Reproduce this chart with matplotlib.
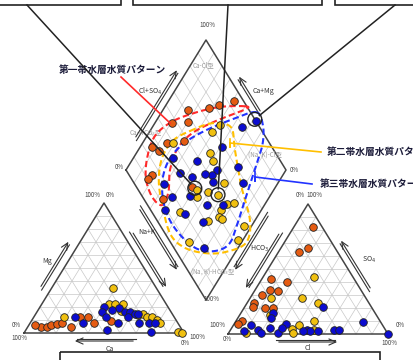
import matplotlib
matplotlib.use('Agg')
import matplotlib.pyplot as plt
from matplotlib.patches import Rectangle
import numpy as np

plt.rcParams['font.family'] = ['Noto Sans CJK JP', 'DejaVu Sans']

# ---- data (percent) ----
# cation triangle: Mg, Na+K   (Ca = rest)
cat1_mg = [5, 5, 6, 7, 8, 6, 5, 12, 12, 8, 9]
cat1_nak = [8, 12, 14, 17, 20, 4, 27, 29, 34, 40, 50]
cat2_mg = [12, 35, 22, 22, 17, 22, 14, 15, 12, 12, 10, 8, 1, 0]
cat2_nak = [19, 38, 42, 46, 52, 51, 64, 67, 71, 74, 78, 81, 96, 99]
cat3_mg = [12, 8, 20, 16, 12, 19, 16, 16, 15, 15, 12, 8, 8, 8, 8, 2, 1, 18]
cat3_nak = [26, 33, 40, 41, 45, 50, 55, 58, 62, 64, 59, 55, 68, 74, 78, 51, 79, 46]

# anion triangle: SO4, Cl   (HCO3 = rest)
an1_so4 = [82, 66, 63, 42, 40, 30, 34, 33, 24, 21, 20, 20, 10, 8]
an1_cl = [12, 17, 13, 6, 17, 6, 9, 15, 4, 5, 13, 18, 4, 2]
an2_so4 = [44, 28, 28, 24, 15, 7, 4, 1, 1, 10, 3]
an2_cl = [32, 13, 32, 44, 19, 41, 38, 40, 11, 49, 52]
an3_so4 = [21, 16, 12, 7, 3, 1, 2, 5, 1, 8, 5, 3, 2, 2, 3, 3, 9, 0, 2]
an3_cl = [49, 20, 21, 11, 17, 20, 9, 24, 31, 32, 31, 48, 50, 55, 65, 68, 80, 100, 46]

# diamond: Na+K, Cl+SO4
dia1_nak = [41, 33, 28, 16, 20, 11, 15, 25, 7, 13, 18, 17, 34, 48]
dia1_clso4 = [94, 83, 76, 62, 57, 47, 36, 47, 25, 28, 14, 10, 12, 35]
dia2_nak = [41, 39, 19, 46, 51, 66, 52, 55, 60, 67, 76, 80, 75, 76, 79, 50, 71, 95, 67, 97]
dia2_clso4 = [76, 68, 40, 59, 58, 56, 37, 34, 43, 48, 50, 55, 44, 40, 41, 18, 32, 52, 12, 43]
dia3_nak = [62, 56, 51, 25, 41, 69, 57, 35, 44, 56, 59, 78, 29, 50, 39, 64, 74, 40, 54, 68, 79, 51]
dia3_clso4 = [100, 89, 69, 34, 48, 71, 57, 33, 39, 52, 50, 68, 18, 30, 18, 37, 47, 9, 20, 28, 19, 48]

# circled samples (diamond)
hl_nak = [50, 67, 61]
hl_clso4 = [36, 48, 100]

# water quality pattern envelopes (diamond: Na+K, Cl+SO4)
env1_nak = [50, 34.5, 21, 10, 5, 8.5, 16, 27, 36, 35, 27.5, 24, 27, 37, 51]
env1_clso4 = [99, 83, 65, 47, 31, 18, 9, 6, 9, 18, 27.5, 40, 55, 74.5, 97.5]
env2_nak = [25, 36, 49, 60, 78, 97, 103, 94, 82, 67, 53, 38.5, 25, 18, 18]
env2_clso4 = [55, 72, 82, 76, 66, 58, 47, 31, 18, 7, 3, 8, 16, 27, 40.5]
env3_nak = [59, 68, 75, 79, 84, 90, 93, 88, 77, 64, 48, 35, 26, 23, 26, 34, 47]
env3_clso4 = [103.5, 103, 96, 85, 68.5, 50, 37, 26, 15.5, 10, 8, 11.5, 20, 32, 46.6, 64, 86]

pattern_labels = ['第一帯水層水質パターン', '第二帯水層水質パターン', '第三帯水層水質パターン']
colors = ['#e55b12', '#f0c010', '#0c0cd0']
env_colors = ['#ff2a2a', '#ffbf00', '#2233ff']


# ---- geometry (pixel space) ----
def cat_xy(mg, nak):
    mg = np.asarray(mg, float); nak = np.asarray(nak, float)
    return 24 + (nak + mg / 2) * 1.6, 333 - mg * 1.3


def an_xy(so4, cl):
    so4 = np.asarray(so4, float); cl = np.asarray(cl, float)
    return 228 + (cl + so4 / 2) * 1.6, 334 - so4 * 1.3


def dia_xy(nak, clso4):
    u = 1 - np.asarray(nak, float) / 100
    v = np.asarray(clso4, float) / 100
    return 206 - 80 * u + 80 * v, 300 - 130 * (u + v)


def smooth_closed(xs, ys, n=16):
    pts = np.column_stack([xs, ys])
    P = np.vstack([pts[-1], pts, pts[0], pts[1]])
    t = np.linspace(0, 1, n, endpoint=False)[:, None]
    out = []
    for i in range(1, len(pts) + 1):
        p0, p1, p2, p3 = P[i - 1], P[i], P[i + 1], P[i + 2]
        out.append(0.5 * (2 * p1 + (-p0 + p2) * t + (2 * p0 - 5 * p1 + 4 * p2 - p3) * t ** 2
                          + (-p0 + 3 * p1 - 3 * p2 + p3) * t ** 3))
    out = np.vstack(out + [out[0][:1]])
    return out[:, 0], out[:, 1]


fig = plt.figure(figsize=(4.14, 3.6), dpi=100)
ax = fig.add_axes([0, 0, 1, 1])
ax.set_xlim(0, 414)
ax.set_ylim(360, 0)
ax.axis('off')

gc = '#c8c8c8'
ec = '#444444'


def tri_frame(f):
    for p in range(10, 100, 10):
        for a, b in [((p, 0), (p, 100 - p)), ((0, p), (100 - p, p)), ((0, 100 - p), (100 - p, 0))]:
            x0, y0 = f(*a); x1, y1 = f(*b)
            ax.plot([x0, x1], [y0, y1], color=gc, lw=0.5, zorder=1)
    xs, ys = f([0, 0, 100, 0], [0, 100, 0, 0])
    ax.plot(xs, ys, color=ec, lw=1.1, zorder=2)


tri_frame(cat_xy)
tri_frame(an_xy)

for p in range(10, 100, 10):
    x, y = dia_xy([p, p], [0, 100]); ax.plot(x, y, color=gc, lw=0.5, zorder=1)
    x, y = dia_xy([0, 100], [p, p]); ax.plot(x, y, color=gc, lw=0.5, zorder=1)
x, y = dia_xy([0, 100, 100, 0, 0], [0, 0, 100, 100, 0])
ax.plot(x, y, color=ec, lw=1.1, zorder=2)


# arrows beside the edges
def edge_arrow(P, Q, t0, t1, off, center):
    P = np.array(P, float); Q = np.array(Q, float)
    a = P + (Q - P) * t0; b = P + (Q - P) * t1
    d = (b - a) / np.linalg.norm(b - a)
    n = np.array([-d[1], d[0]])
    if np.dot(n, (a + b) / 2 - np.array(center)) < 0:
        n = -n
    a = a + n * off; b = b + n * off
    ax.annotate('', xy=b, xytext=a,
                arrowprops=dict(arrowstyle='->,head_length=0.5,head_width=0.22', color='#333', lw=0.8))
    ax.plot([a[0] - n[0] * 2.5, b[0] - d[0] * 5 - n[0] * 2.5],
            [a[1] - n[1] * 2.5, b[1] - d[1] * 5 - n[1] * 2.5], color='#333', lw=0.8)


cc = (104, 290); ac = (308, 291); dc = (206, 170)
edge_arrow(cat_xy(0, 0), cat_xy(100, 0), 0.3, 0.68, 10, cc)          # Mg
edge_arrow(cat_xy(0, 100), cat_xy(0, 0), 0.3, 0.7, 8, cc)            # Ca
edge_arrow(cat_xy(100, 0), cat_xy(0, 100), 0.25, 0.7, 9, cc)         # Na+K
edge_arrow(dia_xy(0, 0), dia_xy(100, 0), 0.25, 0.75, 9, dc)          # Na+K (diamond)
edge_arrow(dia_xy(0, 0), dia_xy(0, 100), 0.2, 0.75, 9, dc)           # Cl+SO4
edge_arrow(dia_xy(100, 100), dia_xy(0, 100), 0.4, 0.7, 9, dc)        # Ca+Mg
edge_arrow(dia_xy(100, 100), dia_xy(100, 0), 0.3, 0.75, 9, dc)       # HCO3 (diamond)
edge_arrow(an_xy(100, 0), an_xy(0, 0), 0.25, 0.7, 9, ac)             # HCO3
edge_arrow(an_xy(0, 100), an_xy(100, 0), 0.3, 0.7, 9, ac)            # SO4
edge_arrow(an_xy(0, 0), an_xy(0, 100), 0.3, 0.7, 8, ac)              # Cl

fs = 5
for txt, x, y in [('Mg', 47, 261), ('Ca', 110, 349), ('Na+K', 147, 232),
                  ('Cl+SO$_4$', 150, 91), ('Ca+Mg', 264, 91), ('HCO$_3$', 260, 249),
                  ('SO$_4$', 369, 260), ('Cl', 308, 348)]:
    ax.text(x, y, txt, fontsize=fs, color='#333', ha='center', va='center')

for txt, x, y in [('100%', 207, 25), ('0%', 294, 170), ('0%', 119, 167), ('100%', 211, 299),
                  ('100%', 92, 195), ('0%', 110, 195), ('0%', 16, 325), ('100%', 19, 338),
                  ('100%', 197, 337), ('0%', 185, 343),
                  ('0%', 300, 195), ('100%', 314, 195), ('100%', 217, 325), ('0%', 227, 339),
                  ('0%', 400, 325), ('100%', 389, 343)]:
    ax.text(x, y, txt, fontsize=4.5, color='#444', ha='center', va='center')

for txt, x, y in [('Ca-Cl型', 204, 65), ('Ca-HCO$_3$型', 146, 133),
                  ('(Na, K)-Cl型', 265, 155), ('(Na, K)-HCO$_3$型', 213, 272)]:
    ax.text(x, y, txt, fontsize=4.5, color='#9a9a9a', ha='center', va='center', zorder=2)

# envelopes
for (en, ev), c in zip([(env1_nak, env1_clso4), (env2_nak, env2_clso4), (env3_nak, env3_clso4)], env_colors):
    x, y = dia_xy(en, ev)
    sx, sy = smooth_closed(x, y)
    ax.plot(sx, sy, color=c, lw=1.5, ls=(0, (3, 1.6)), zorder=3)

# points
groups = [
    (cat1_mg, cat1_nak, an1_so4, an1_cl, dia1_nak, dia1_clso4),
    (cat2_mg, cat2_nak, an2_so4, an2_cl, dia2_nak, dia2_clso4),
    (cat3_mg, cat3_nak, an3_so4, an3_cl, dia3_nak, dia3_clso4),
]
for (cm, cn, aso, acl, dn, dcs), c in zip(groups, colors):
    for xy in [cat_xy(cm, cn), an_xy(aso, acl), dia_xy(dn, dcs)]:
        ax.scatter(xy[0], xy[1], s=30, color=c, edgecolors='#222', linewidths=0.6, zorder=4)

hx, hy = dia_xy(hl_nak, hl_clso4)
ax.scatter(hx, hy, s=100, facecolors='none', edgecolors='#222', linewidths=1.0, zorder=5)

# boxes at top and bottom
for x0, x1 in [(-5, 121), (133, 322), (335, 420)]:
    ax.add_patch(Rectangle((x0, -10), x1 - x0, 15, fill=False, ec='#222', lw=1.2, zorder=6))
ax.add_patch(Rectangle((60, 352), 320, 20, fill=False, ec='#222', lw=1.2, zorder=6))

# callouts from boxes to circled samples
for (bx, by), px, py in zip([(27, 5), (228, 5), (395, 5)], hx, hy):
    d = np.array([px - bx, py - by]); d = d / np.linalg.norm(d)
    ax.plot([bx, px - d[0] * 6], [by, py - d[1] * 6], color='#222', lw=1.1, zorder=6)

# pattern labels
ax.plot([121, 170], [77, 123], color=env_colors[0], lw=1.2, zorder=6)
ax.plot([230, 230, 230, 321], [139, 147, 143, 152], color=env_colors[1], lw=1.2, zorder=6)
ax.plot([255, 255, 255, 312], [172, 181, 177, 184], color=env_colors[2], lw=1.2, zorder=6)
lc = '#1c1c3a'
ax.text(112, 70, pattern_labels[0], fontsize=7, fontweight='bold', color=lc, ha='center', va='center')
ax.text(327, 152, pattern_labels[1], fontsize=7, fontweight='bold', color=lc, ha='left', va='center')
ax.text(320, 184, pattern_labels[2], fontsize=7, fontweight='bold', color=lc, ha='left', va='center')

fig.savefig('out.png', dpi=100)
